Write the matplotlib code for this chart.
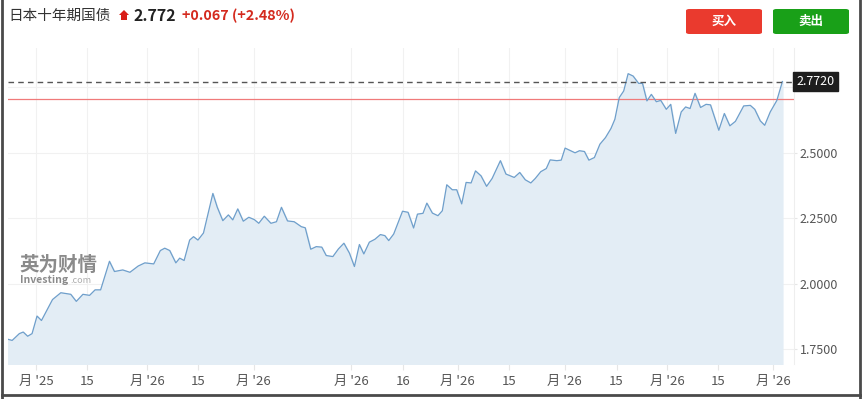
import matplotlib.pyplot as plt
import matplotlib.patches as mpatches
from matplotlib.lines import Line2D

plt.rcParams['font.family'] = ['Noto Sans CJK SC', 'DejaVu Sans']

# Data (x in session units, y = yield %)
x = [1.5, 2.2, 3.5, 4.2, 5.0, 5.8, 6.7, 7.5, 8.5, 9.5, 11.0, 12.8, 13.8, 15.0, 16.2, 17.2, 18.2,
     19.8, 20.7, 22.2, 23.5, 25.0, 26.2, 27.8, 29.0, 29.8, 30.7, 31.8, 32.5, 33.3, 34.3, 35.0,
     35.8, 36.8, 38.5, 39.3, 40.3, 41.3, 42.1, 43.0, 44.0, 45.0, 46.0, 46.8, 47.8, 49.0, 50.0,
     50.9, 52.0, 53.2, 54.5, 55.2, 56.2, 57.2, 58.2, 59.0, 60.2, 61.2, 62.2, 63.2, 64.1, 65.0,
     65.8, 66.8, 67.8, 68.8, 69.6, 70.3, 71.2, 72.8, 73.8, 74.8, 75.5, 76.5, 77.2, 78.2, 79.2,
     80.0, 80.8, 81.8, 82.6, 83.5, 84.3, 85.2, 86.0, 87.0, 88.0, 89.0, 90.5, 91.5, 93.0, 94.0,
     95.0, 96.0, 96.8, 97.8, 98.8, 99.5, 100.7, 101.5, 102.2, 103.0, 104.0, 104.8, 105.7, 106.5,
     107.5, 108.5, 109.5, 110.5, 111.2, 112.0, 112.8, 113.6, 114.5, 115.5, 116.2, 117.0, 117.8,
     118.7, 119.5, 120.5, 121.3, 122.2, 123.2, 124.0, 124.8, 125.7, 126.7, 127.7, 128.5, 130.0,
     131.0, 132.0, 133.0, 134.5, 135.7, 136.5, 137.5, 138.3, 139.3, 140.5, 141.5]
y = [1.788, 1.784, 1.810, 1.816, 1.800, 1.810, 1.877, 1.860, 1.900, 1.940, 1.966, 1.960, 1.933,
     1.960, 1.956, 1.977, 1.977, 2.086, 2.047, 2.053, 2.044, 2.068, 2.080, 2.076, 2.127, 2.136,
     2.127, 2.080, 2.098, 2.089, 2.167, 2.180, 2.167, 2.194, 2.345, 2.292, 2.241, 2.263, 2.244,
     2.286, 2.239, 2.254, 2.245, 2.231, 2.258, 2.231, 2.237, 2.292, 2.240, 2.237, 2.218, 2.214,
     2.132, 2.142, 2.140, 2.108, 2.104, 2.133, 2.155, 2.117, 2.066, 2.150, 2.114, 2.159, 2.170,
     2.188, 2.184, 2.165, 2.190, 2.277, 2.273, 2.213, 2.266, 2.269, 2.308, 2.270, 2.260, 2.279,
     2.378, 2.359, 2.359, 2.305, 2.387, 2.385, 2.431, 2.412, 2.372, 2.402, 2.470, 2.419, 2.406,
     2.425, 2.397, 2.385, 2.402, 2.428, 2.440, 2.473, 2.470, 2.472, 2.518, 2.510, 2.500, 2.508,
     2.505, 2.472, 2.482, 2.533, 2.558, 2.593, 2.628, 2.711, 2.736, 2.802, 2.793, 2.765, 2.765,
     2.698, 2.723, 2.695, 2.700, 2.666, 2.685, 2.574, 2.656, 2.675, 2.669, 2.727, 2.673, 2.685,
     2.683, 2.586, 2.650, 2.603, 2.620, 2.679, 2.681, 2.666, 2.622, 2.605, 2.656, 2.700, 2.772]

tick_pos = [6.5, 15.7, 26.6, 35.8, 45.9, 63.5, 72.9, 82.8, 92.0, 102.1, 111.5, 120.7, 129.8, 139.8]
tick_labels = ["月 '25", "15", "月 '26", "15", "月 '26", "月 '26", "16", "月 '26", "15",
               "月 '26", "15", "月 '26", "15", "月 '26"]
y_ticks = [1.75, 2.0, 2.25, 2.5, 2.75]

last = 2.772
prev_close = 2.705

fig = plt.figure(figsize=(8.65, 3.99), dpi=100)
ax = fig.add_axes([8 / 865, 1 - 364 / 399, 786 / 865, 316 / 399])

ax.fill_between(x, y, 1.6, color='#e3edf5', zorder=1)
ax.plot(x, y, color='#6f9fcb', linewidth=0.9, zorder=3)

ax.axhline(last, color='#555555', linestyle=(0, (4, 3)), linewidth=1.0, zorder=4)
ax.axhline(prev_close, color='#f07a7a', linewidth=0.9, zorder=2)

ax.set_xlim(1.45, 143.6)
ax.set_ylim(1.694, 2.9)

ax.set_xticks(tick_pos)
ax.set_xticklabels(tick_labels, fontsize=9.5, color='#555555')
ax.set_yticks(y_ticks)
ax.set_yticklabels(['%.4f' % v for v in y_ticks], fontsize=9, color='#555555')
ax.yaxis.tick_right()
ax.tick_params(axis='x', length=4, color='#e6e6e6', pad=4)
ax.tick_params(axis='y', length=2, color='#e6e6e6', pad=2)

ax.grid(True, color='#f1f1f1', linewidth=0.8, zorder=0)
ax.set_axisbelow(True)
for side in ['top', 'left', 'bottom']:
    ax.spines[side].set_visible(False)
ax.spines['right'].set_color('#eeeeee')

# current value tag
ax.text(1.003, last, '%.4f' % last, transform=ax.get_yaxis_transform(), ha='left', va='center',
        fontsize=9, color='white', zorder=10, clip_on=False,
        bbox=dict(boxstyle='square,pad=0.25', facecolor='#1e1e1e', edgecolor='#1e1e1e'))

# watermark
ax.text(0.014, 0.295, '英为财情', transform=ax.transAxes, fontsize=14, fontweight='bold',
        color='#6e6e6e', alpha=0.8, zorder=5, va='baseline')
ax.text(0.015, 0.255, 'Investing', transform=ax.transAxes, fontsize=7.5, fontweight='bold',
        color='#6e6e6e', alpha=0.8, zorder=5, va='baseline')
ax.text(0.079, 0.255, '.com', transform=ax.transAxes, fontsize=6.5,
        color='#9a9a9a', alpha=0.8, zorder=5, va='baseline')

# header
fig.text(8 / 865, 1 - 16 / 399, '日本十年期国债', fontsize=10.5, color='#333333', va='center')
fig.patches.append(mpatches.Polygon(
    [[119 / 865, 1 - 15 / 399], [124 / 865, 1 - 10 / 399], [129 / 865, 1 - 15 / 399],
     [127 / 865, 1 - 15 / 399], [127 / 865, 1 - 20 / 399], [121 / 865, 1 - 20 / 399],
     [121 / 865, 1 - 15 / 399]],
    closed=True, transform=fig.transFigure, facecolor='#d91e18', edgecolor='none'))
fig.text(133 / 865, 1 - 16 / 399, '2.772', fontsize=11.5, fontweight='bold', color='#222222', va='center')
fig.text(182 / 865, 1 - 16 / 399, '+0.067 (+2.48%)', fontsize=10.3, fontweight='bold',
         color='#d42a1e', va='center')

# buttons
for bx, label, col in [(686, '买入', '#ea3a2e'), (773, '卖出', '#19a018')]:
    fig.patches.append(mpatches.FancyBboxPatch(
        (bx / 865, 1 - 34 / 399), 76 / 865, 25 / 399,
        boxstyle='round,pad=0,rounding_size=0.004', transform=fig.transFigure,
        facecolor=col, edgecolor='none'))
    fig.text((bx + 38) / 865, 1 - 21.5 / 399, label, fontsize=9, fontweight='bold',
             color='white', ha='center', va='center')

# outer frame
for xs, ys in [([1.5 / 865, 1.5 / 865], [0, 1]),
               ([860 / 865, 860 / 865], [0, 1]),
               ([1.5 / 865, 860 / 865], [1 - 395 / 399, 1 - 395 / 399])]:
    fig.add_artist(Line2D(xs, ys, transform=fig.transFigure, color='#4a4a4a', linewidth=2))

fig.savefig('out.png', dpi=100)
plt.close(fig)
